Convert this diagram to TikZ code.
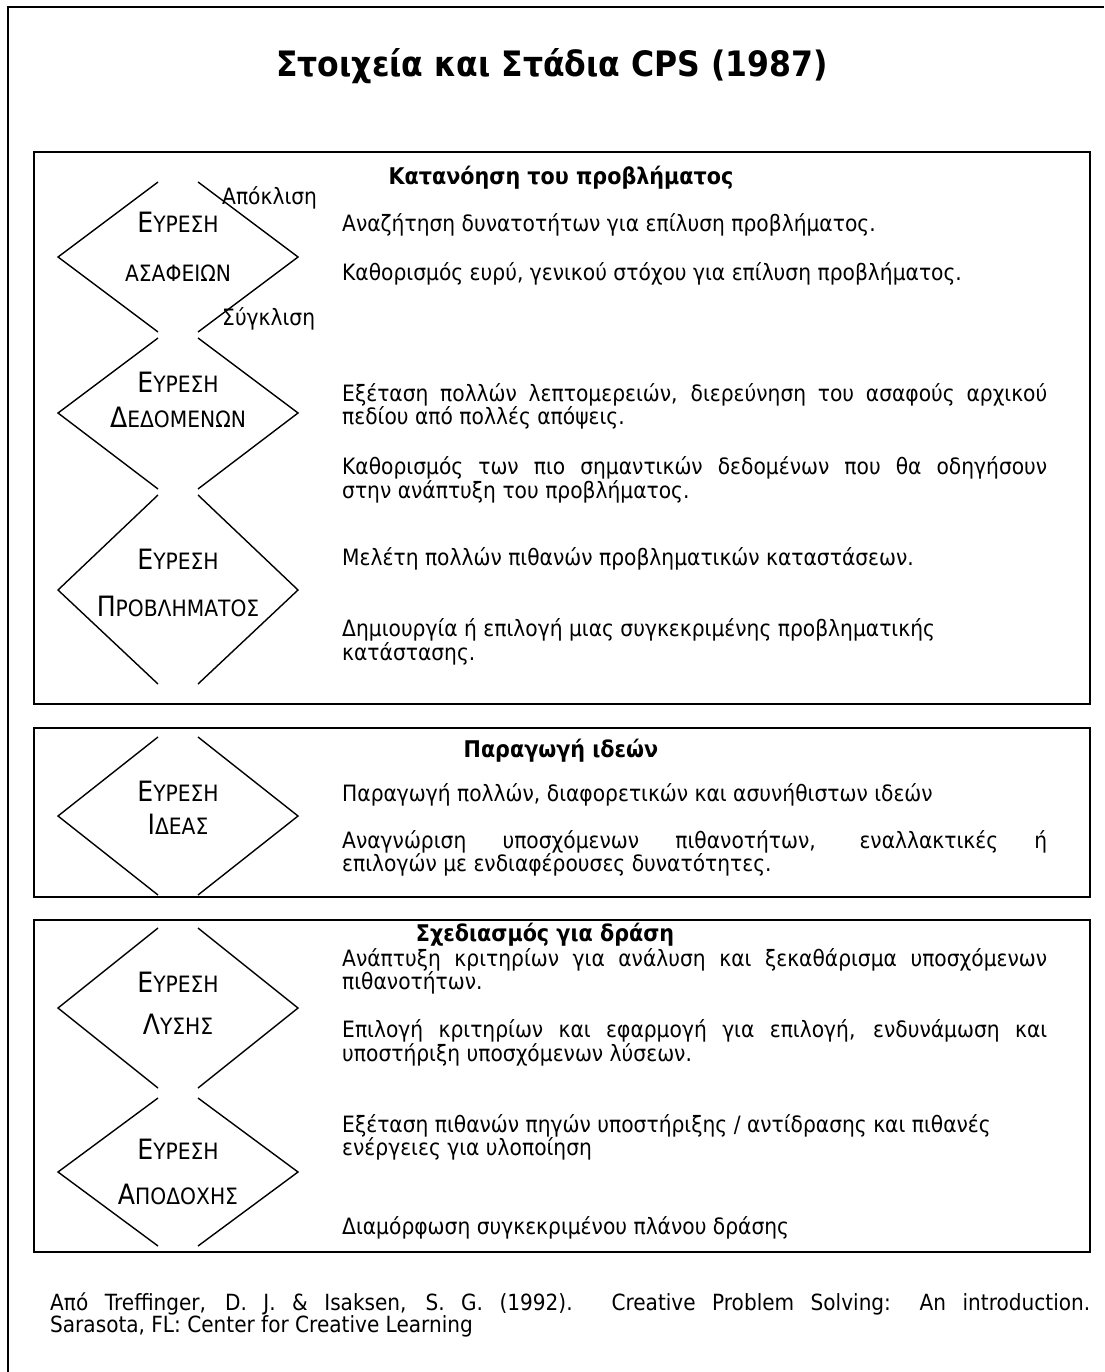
\documentclass[tikz,border=0pt]{standalone}
\usepackage{fontspec}
\setmainfont{DejaVu Sans}[FakeStretch=0.9]
\newcommand\capsword[2]{{\fontsize{28}{28}\selectfont #1}{\fontsize{22.5}{22.5}\selectfont #2}}
\begin{document}
\begin{tikzpicture}[x=1pt,y=-1pt,
  frame/.style={line width=2pt},
  panel/.style={line width=1.8pt},
  rhomb/.style={line width=1.4pt},
  body/.style={font=\fontsize{22.5}{26}\selectfont, inner sep=0pt, anchor=mid west},
  head/.style={font=\bfseries\fontsize{23}{26}\selectfont, inner sep=0pt, anchor=mid},
  stage/.style={inner sep=0pt, anchor=mid},
  srcline/.style={font=\fontsize{22.3}{26}\selectfont, inner sep=0pt, anchor=mid west}]
\useasboundingbox (0,0) rectangle (1104,1372);
\fill[white] (0,0) rectangle (1104,1372);

% outer frame, open to the right and below
\draw[frame] (1104,7) -| (8,1372);

\node[font=\bfseries\fontsize{35}{40}\selectfont, inner sep=0pt, anchor=mid] (title) at (552,74) {Στοιχεία και Στάδια CPS (1987)};

% three panels
\draw[panel] (34,152) rectangle (1090,704);
\draw[panel] (34,728) rectangle (1090,897);
\draw[panel] (34,920) rectangle (1090,1252);

% open-ended diamonds: top, centre, bottom
\foreach \t/\c/\b in {182/257/332, 338/413/489, 495/590/684, 737/816/895, 928/1008/1088, 1098/1172/1246}{
  \draw[rhomb] (158,\t) -- (58,\c) -- (158,\b);
  \draw[rhomb] (198,\t) -- (298,\c) -- (198,\b);
}

% stage names
\node[stage] (s1a) at (178,230) {\capsword{Ε}{ΥΡΕΣΗ}};
\node[stage] (s1b) at (178,279) {\fontsize{22.5}{22.5}\selectfont ΑΣΑΦΕΙΩΝ};
\node[stage] (s2a) at (178,390) {\capsword{Ε}{ΥΡΕΣΗ}};
\node[stage] (s2b) at (178,425) {\capsword{Δ}{ΕΔΟΜΕΝΩΝ}};
\node[stage] (s3a) at (178,567) {\capsword{Ε}{ΥΡΕΣΗ}};
\node[stage] (s3b) at (178,614) {\capsword{Π}{ΡΟΒΛΗΜΑΤΟΣ}};
\node[stage] (s4a) at (178,799) {\capsword{Ε}{ΥΡΕΣΗ}};
\node[stage] (s4b) at (178,832) {\capsword{Ι}{ΔΕΑΣ}};
\node[stage] (s5a) at (178,990) {\capsword{Ε}{ΥΡΕΣΗ}};
\node[stage] (s5b) at (178,1032) {\capsword{Λ}{ΥΣΗΣ}};
\node[stage] (s6a) at (178,1157) {\capsword{Ε}{ΥΡΕΣΗ}};
\node[stage] (s6b) at (178,1202) {\capsword{Α}{ΠΟΔΟΧΗΣ}};

\node[body] (div) at (222,202) {Απόκλιση};
\node[body] (conv) at (222,323) {Σύγκλιση};

% panel 1
\node[head] (h1) at (561,182) {Κατανόηση του προβλήματος};
\node[body] (a1) at (342,229) {Αναζήτηση δυνατοτήτων για επίλυση προβλήματος.};
\node[body] (a2) at (342,278) {Καθορισμός ευρύ, γενικού στόχου για επίλυση προβλήματος.};
\node[body] (b1) at (342,399) {\makebox[705pt][s]{Εξέταση πολλών λεπτομερειών, διερεύνηση του ασαφούς αρχικού}};
\node[body] (b2) at (342,422) {πεδίου από πολλές απόψεις.};
\node[body] (b3) at (342,472) {\makebox[705pt][s]{Καθορισμός των πιο σημαντικών δεδομένων που θα οδηγήσουν}};
\node[body] (b4) at (342,496) {στην ανάπτυξη του προβλήματος.};
\node[body] (c1) at (342,563) {Μελέτη πολλών πιθανών προβληματικών καταστάσεων.};
\node[body] (c2) at (342,634) {Δημιουργία ή επιλογή μιας συγκεκριμένης προβληματικής};
\node[body] (c3) at (342,658) {κατάστασης.};

% panel 2
\node[head] (h2) at (561,755) {Παραγωγή ιδεών};
\node[body] (d1) at (342,799) {Παραγωγή πολλών, διαφορετικών και ασυνήθιστων ιδεών};
\node[body] (d2) at (342,846) {\makebox[705pt][s]{Αναγνώριση υποσχόμενων πιθανοτήτων, εναλλακτικές ή}};
\node[body] (d3) at (342,869) {επιλογών με ενδιαφέρουσες δυνατότητες.};

% panel 3
\node[head] (h3) at (545,939) {Σχεδιασμός για δράση};
\node[body] (e1) at (342,964) {\makebox[705pt][s]{Ανάπτυξη κριτηρίων για ανάλυση και ξεκαθάρισμα υποσχόμενων}};
\node[body] (e2) at (342,987) {πιθανοτήτων.};
\node[body] (e3) at (342,1035) {\makebox[705pt][s]{Επιλογή κριτηρίων και εφαρμογή για επιλογή, ενδυνάμωση και}};
\node[body] (e4) at (342,1059) {υποστήριξη υποσχόμενων λύσεων.};
\node[body] (f1) at (342,1130) {Εξέταση πιθανών πηγών υποστήριξης / αντίδρασης και πιθανές};
\node[body] (f2) at (342,1153) {ενέργειες για υλοποίηση};
\node[body] (f3) at (342,1232) {Διαμόρφωση συγκεκριμένου πλάνου δράσης};

% source
\node[srcline] (src1) at (50,1308) {\makebox[1040pt][s]{Από Treffinger, D. J. \& Isaksen, S. G. (1992). Creative Problem Solving: An introduction.}};
\node[srcline] (src2) at (50,1330) {Sarasota, FL: Center for Creative Learning};
\end{tikzpicture}
\end{document}
